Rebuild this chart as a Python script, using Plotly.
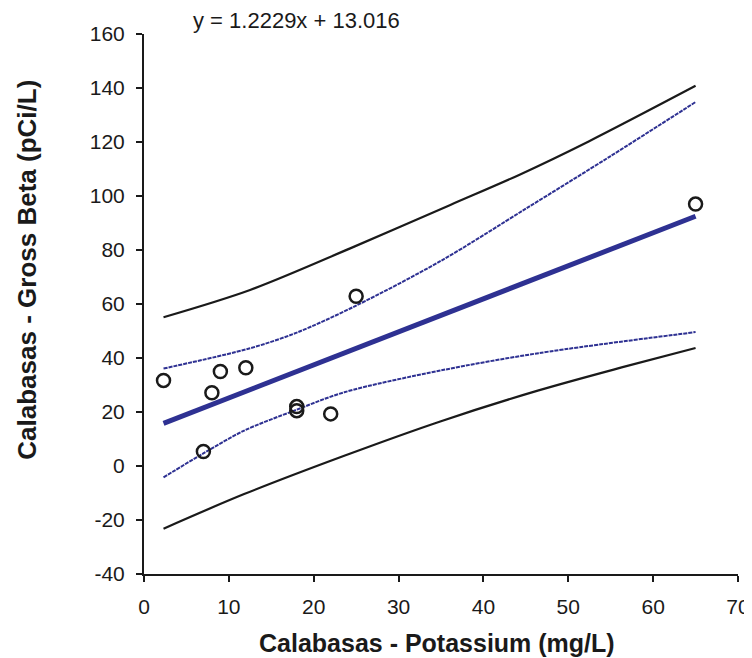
import plotly.graph_objects as go

# Observed data
potassium = [2.3, 7, 8, 9, 12, 18, 18, 22, 25, 65]
gross_beta = [31.7, 5.4, 27.1, 35.0, 36.4, 22.0, 20.5, 19.3, 62.9, 97.0]

# Regression line (y = 1.2229x + 13.016), endpoints
fit_x = [2.3, 65]
fit_y = [15.8, 92.5]

# Confidence band (blue dashed)
conf_up_x = [2.3, 12.5, 18.0, 25.0, 35.0, 45.0, 55.0, 65]
conf_up_y = [36.1, 43.6, 49.4, 59.4, 76.0, 95.3, 114.8, 134.8]
conf_lo_x = [2.3, 6.9, 11.8, 17.7, 23.6, 35.0, 46.5, 65]
conf_lo_y = [-4.2, 4.5, 13.1, 20.5, 27.3, 35.4, 41.8, 49.6]

# Prediction band (black)
pred_up_x = [2.3, 12.5, 24.3, 36.1, 44.2, 52.4, 65]
pred_up_y = [55.1, 65.2, 80.6, 96.7, 107.8, 120.2, 140.8]
pred_lo_x = [2.3, 11.8, 23.6, 35.0, 46.5, 56.4, 65]
pred_lo_y = [-23.2, -10.4, 3.8, 16.6, 28.0, 36.6, 43.7]

x_ticks = [0, 10, 20, 30, 40, 50, 60, 70]
y_ticks = [-40, -20, 0, 20, 40, 60, 80, 100, 120, 140, 160]
y_tick_text = ["-40", "-20", "0", "20", "40", "60", "80", "100", "120", "140", "160"]

x_title = "Calabasas - Potassium (mg/L)"
y_title = "Calabasas - Gross Beta (pCi/L)"
equation = "y = 1.2229x + 13.016"

BLUE = "#2E3192"
INK = "#1a1a1a"
FONT = "Liberation Sans, Arial, sans-serif"

# page body adds an 8px offset; figure coordinates below are screen - 8
FW, FH = 744, 650
L, T, R, B = 135.5, 26, 13.5, 84
PW, PH = FW - L - R, FH - T - B

fig = go.Figure()
for xs, ys in [(pred_up_x, pred_up_y), (pred_lo_x, pred_lo_y)]:
    fig.add_trace(go.Scatter(x=xs, y=ys, mode="lines",
                             line=dict(color=INK, width=2.2, shape="spline", smoothing=0.9),
                             showlegend=False, hoverinfo="skip"))
for xs, ys in [(conf_up_x, conf_up_y), (conf_lo_x, conf_lo_y)]:
    fig.add_trace(go.Scatter(x=xs, y=ys, mode="lines",
                             line=dict(color=BLUE, width=2, dash="4px,1px", shape="spline", smoothing=0.9),
                             showlegend=False, hoverinfo="skip"))
fig.add_trace(go.Scatter(x=fit_x, y=fit_y, mode="lines", line=dict(color=BLUE, width=5),
                         showlegend=False))
fig.add_trace(go.Scatter(x=potassium, y=gross_beta, mode="markers",
                         marker=dict(symbol="circle-open", size=13, color=INK,
                                     line=dict(width=2.5, color=INK)),
                         showlegend=False))

fig.add_annotation(text=equation, xref="paper", yref="paper", x=(183 - L) / PW, y=1 + (T - 13) / PH,
                   xanchor="left", yanchor="middle", showarrow=False,
                   font=dict(family=FONT, size=22, color=INK))
fig.add_annotation(text="<b>" + x_title + "</b>", xref="paper", yref="paper",
                   x=(429 - L) / PW, y=-(635 - (T + PH)) / PH,
                   xanchor="center", yanchor="middle", showarrow=False,
                   font=dict(family=FONT, size=25, color=INK))
fig.add_annotation(text="<b>" + y_title + "</b>", xref="paper", yref="paper",
                   x=-(L - 18) / PW, y=1 - (262 - T) / PH,
                   xanchor="center", yanchor="middle", showarrow=False, textangle=-90,
                   font=dict(family=FONT, size=26, color=INK))

fig.update_layout(
    width=FW, height=FH,
    margin=dict(l=L, r=R, t=T, b=B, autoexpand=False),
    paper_bgcolor="white", plot_bgcolor="white",
    font=dict(family=FONT, color=INK),
    xaxis=dict(range=[0, 70], tickvals=x_ticks, showgrid=False, zeroline=False, automargin=False,
               showline=True, linecolor=INK, linewidth=2, ticks="outside", ticklen=6, tickwidth=2,
               tickcolor=INK, tickfont=dict(size=21), ticklabelstandoff=7),
    yaxis=dict(range=[-40, 160], tickvals=y_ticks, ticktext=y_tick_text, showgrid=False, zeroline=False,
               automargin=False,
               showline=True, linecolor=INK, linewidth=2, ticks="outside", ticklen=6, tickwidth=2,
               tickcolor=INK, tickfont=dict(size=21), ticklabelstandoff=7),
)

fig.write_html("out.html")
